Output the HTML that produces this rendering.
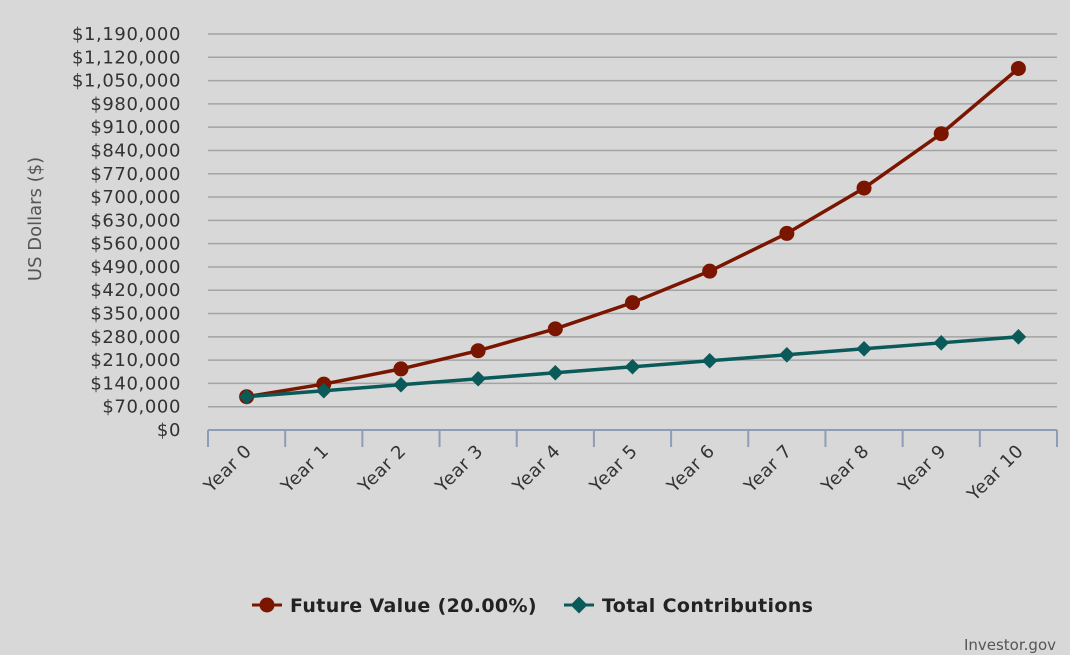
<!DOCTYPE html>
<html><head><meta charset="utf-8">
<style>
html,body{margin:0;padding:0;background:#d8d8d8;}
svg{display:block;font-family:"DejaVu Sans","Liberation Sans",sans-serif;}
</style></head>
<body>
<svg id="chart" width="1070" height="655" viewBox="0 0 1070 655" xmlns="http://www.w3.org/2000/svg">
<rect x="0" y="0" width="1070" height="655" fill="#d8d8d8"/>
<g id="grid"></g>
<g id="yticks"></g>
<g id="xaxis"></g>
<g id="series"></g>
<text x="41" y="219" transform="rotate(-90 41 219)" text-anchor="middle" font-size="18" fill="#555">US Dollars ($)</text>
<g>
  <g>
    <line x1="252" y1="605" x2="282" y2="605" stroke="#7a1500" stroke-width="3"/>
    <circle cx="267" cy="605" r="7.5" fill="#7a1500"/>
    <text x="290" y="612" font-size="19" font-weight="bold" fill="#222" letter-spacing="0.35">Future Value (20.00%)</text>
  </g>
  <g>
    <line x1="564" y1="605" x2="594" y2="605" stroke="#0b5a5a" stroke-width="3"/>
    <rect x="573" y="599" width="12" height="12" transform="rotate(45 579 605)" fill="#0b5a5a"/>
    <text x="602" y="612" font-size="19" font-weight="bold" fill="#222" letter-spacing="0.35">Total Contributions</text>
  </g>
</g>
<text x="1056" y="650" text-anchor="end" font-size="15" fill="#555">Investor.gov</text>
</svg>
<script>
const categories = ["Year 0","Year 1","Year 2","Year 3","Year 4","Year 5","Year 6","Year 7","Year 8","Year 9","Year 10"];
const futureValue = [100000,138000,183600,238320,303984,382781,477337,590804,726965,890358,1086430];
const totalContributions = [100000,118000,136000,154000,172000,190000,208000,226000,244000,262000,280000];
const yTickValues = [0,70000,140000,210000,280000,350000,420000,490000,560000,630000,700000,770000,840000,910000,980000,1050000,1120000,1190000];

const NS="http://www.w3.org/2000/svg";
const X0=208, X1=1057, Y0=430, Y1=34, YMAX=1190000;
const bw=(X1-X0)/categories.length;
function xPos(i){return X0+bw*(i+0.5);}
function yPos(v){return Y0-(v/YMAX)*(Y0-Y1);}
function mk(tag,attrs,parent){const e=document.createElementNS(NS,tag);for(const k in attrs)e.setAttribute(k,attrs[k]);parent.appendChild(e);return e;}
const grid=document.getElementById('grid'), yt=document.getElementById('yticks'), xa=document.getElementById('xaxis'), ser=document.getElementById('series');
function fmt(v){return "$"+v.toLocaleString("en-US");}
yTickValues.forEach(v=>{
  if(v>0){const l=mk('line',{x1:X0,x2:X1,y1:yPos(v),y2:yPos(v),stroke:'#a3a3a3','stroke-width':1.5},grid);
  
  }
  const t=mk('text',{x:181,y:yPos(v)+6,'text-anchor':'end','font-size':18,'letter-spacing':0.6,fill:'#333'},yt);
  t.textContent=fmt(v);
  
  
});
const ax=mk('line',{x1:X0,x2:X1,y1:Y0,y2:Y0,stroke:'#8e9cb8','stroke-width':2},xa);


for(let i=0;i<=categories.length;i++){
  const tk=mk('line',{x1:X0+bw*i,x2:X0+bw*i,y1:Y0,y2:Y0+17,stroke:'#8e9cb8','stroke-width':2},xa);
  
  
}
categories.forEach((c,i)=>{
  const x=xPos(i)+6, y=452;
  const t=mk('text',{x:x,y:y,'text-anchor':'end','font-size':18,'letter-spacing':0.5,fill:'#333',transform:`rotate(-45 ${x} ${y})`},xa);
  t.textContent=c;
  
  
});
function drawLine(vals,color,name){
  const p=mk('polyline',{points:vals.map((v,i)=>xPos(i)+','+yPos(v)).join(' '),fill:'none',stroke:color,'stroke-width':3.5,'stroke-linejoin':'round'},ser);
  
  
}
drawLine(futureValue,'#7a1500','future-value');
drawLine(totalContributions,'#0b5a5a','total-contributions');
futureValue.forEach((v,i)=>{
  const c=mk('circle',{cx:xPos(i),cy:yPos(v),r:7.5,fill:'#7a1500'},ser);
  
  
});
totalContributions.forEach((v,i)=>{
  const x=xPos(i),y=yPos(v);
  const r=mk('rect',{x:x-5.5,y:y-5.5,width:11,height:11,fill:'#0b5a5a',transform:`rotate(45 ${x} ${y})`},ser);
  
  
});
</script>
</body></html>
